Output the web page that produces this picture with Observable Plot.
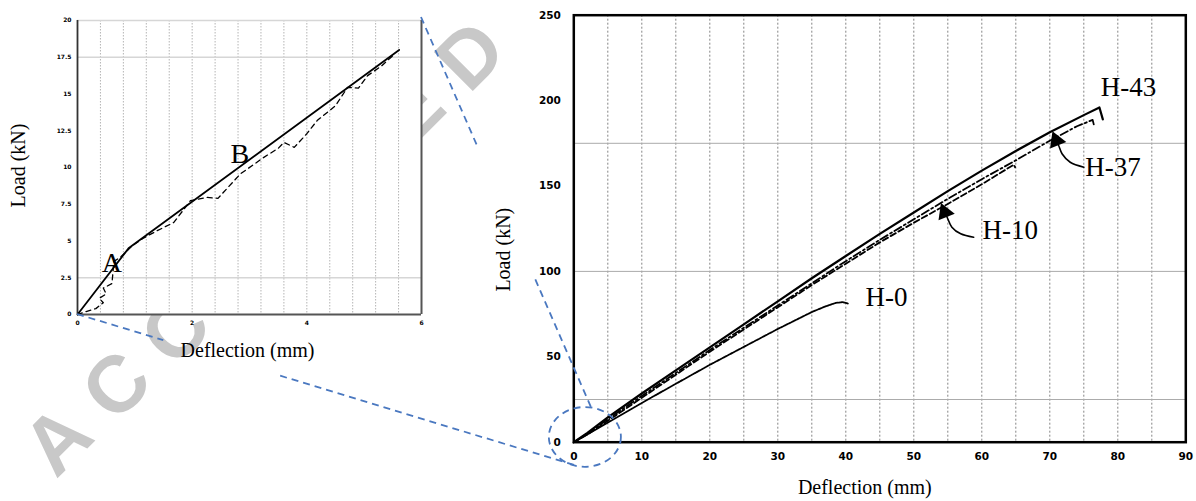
<!DOCTYPE html>
<html><head><meta charset="utf-8">
<script src="https://cdn.jsdelivr.net/npm/d3@7"></script>
<script src="https://cdn.jsdelivr.net/npm/@observablehq/plot@0.6"></script>
<style>
html,body{margin:0;padding:0;background:#fff;}
#wrap{position:relative;width:1196px;height:501px;overflow:hidden;background:#fff;}
#wrap > svg{position:absolute;}
</style></head><body><div id="wrap"></div>
<script>
// ---------- data: inset (0–6 mm) ----------
const insetXTicks = [0, 2, 4, 6];
const insetYTicks = [0, 2.5, 5, 7.5, 10, 12.5, 15, 17.5, 20];
const insetXGrid = [0.4, 0.8, 1.2, 1.6, 2.0, 2.4, 2.8, 3.2, 3.6, 4.0, 4.4, 4.8, 5.2, 5.6];
const insetYGrid = [2.5, 17.5, 20];
const insetSolidDef = [0, 0.89, 5.61];
const insetSolidLoad = [0, 4.5, 18.0];
const insetDashDef = [0, 0.15, 0.32, 0.45, 0.38, 0.5, 0.45, 0.6, 0.62, 0.63, 0.75, 0.95, 1.15, 1.39, 1.68, 1.97, 2.26, 2.45, 2.84, 3.25, 3.5, 3.6, 3.78, 4.0, 4.18, 4.5, 4.71, 4.9, 5.06, 5.3, 5.5];
const insetDashLoad = [0, 0.2, 0.4, 0.8, 1.1, 1.4, 1.8, 2.1, 2.9, 3.6, 3.9, 4.66, 5.2, 5.7, 6.26, 7.74, 7.97, 7.9, 9.56, 10.69, 11.3, 11.71, 11.37, 12.3, 13.19, 14.2, 15.45, 15.4, 16.25, 16.9, 17.6];
const insetLetters = ["A", "B"];
const insetLetterDef = [0.6, 2.83];
const insetLetterLoad = [3.5, 10.9];

// ---------- data: main chart ----------
const mainXTicks = [0, 10, 20, 30, 40, 50, 60, 70, 80, 90];
const mainYTicks = [0, 50, 100, 150, 200, 250];
const mainXGrid = [5, 10, 15, 20, 25, 30, 35, 40, 45, 50, 55, 60, 65, 70, 75, 80, 85];
const mainYGrid = [25, 100, 175];

const h0Def  = [0, 5, 10, 15, 20, 25, 30, 35, 37, 38.5, 39.5, 40.3];
const h0Load = [0, 11.5, 23, 34.2, 45.3, 55.8, 66.3, 76.2, 79.5, 81.5, 82, 81.2];

const h10Def  = [0, 2, 5, 10, 15, 20, 25, 30, 35, 40, 45, 50, 55, 60, 64.7, 64.9];
const h10Load = [0, 4.5, 12.5, 26, 39.5, 53, 66, 79, 92, 104.5, 117, 128.5, 139.5, 151, 162.5, 161];

const h37Def  = [0, 2, 5, 10, 15, 20, 25, 30, 35, 40, 45, 50, 55, 60, 65, 70, 74, 76.3, 76.5];
const h37Load = [0, 5, 13.5, 27, 40.5, 54, 67, 80, 93, 106, 118.5, 130.5, 142.5, 154, 165, 176.5, 185, 188.7, 185.5];

const h43Def  = [0, 2, 5, 10, 15, 20, 25, 30, 35, 40, 45, 50, 55, 60, 65, 70, 75, 77.3, 77.8];
const h43Load = [0, 5.5, 14.5, 28.5, 42, 55.5, 69, 82.5, 96, 109, 122, 134.5, 147, 159, 170.5, 181.5, 191.5, 196, 189];

const seriesNames = ["H-0", "H-10", "H-37", "H-43"];
const labelDef  = [42.9, 60.1, 75.2, 77.5];
const labelLoad = [84.9, 124, 161, 208];

const arrow10Def  = [58.8, 56.9, 55.6, 54.9, 54.6];
const arrow10Load = [120.0, 122.0, 125.9, 131.7, 134.0];
const arrow37Def  = [75.0, 73.0, 71.8, 71.3, 71.0];
const arrow37Load = [161.0, 163.9, 168.9, 173.7, 176.0];
const headDef  = [54.55, 70.95];
const headLoad = [134.6, 176.6];
const headAngle = [-22, -22];

// callout (zoom circle) in main data units
const calloutCenter = [1.7, 2.8];
const calloutRadius = [5.3, 17.5];

const watermark = ["A", "C", "C", "E", "P", "T", "E", "D"];

// ---------- helpers ----------
const pts = (xs, ys) => xs.map((x, i) => ({x, y: ys[i]}));
const serif = "Liberation Serif, Times New Roman, serif";
const tickFont = "DejaVu Sans, sans-serif";
const fmt = d => String(d);
const wrap = document.getElementById("wrap");

// ---------- watermark ----------
const wm = d3.create("svg").attr("width", 1196).attr("height", 501).style("left", "0px").style("top", "0px");
watermark.forEach((ch, i) => {
  const cx = 57 + 59 * i, cy = 440 - 55 * i;
  wm.append("text").attr("x", cx).attr("y", cy)
    .attr("text-anchor", "middle").attr("dominant-baseline", "central")
    .attr("transform", `rotate(-45,${cx},${cy})`)
    .attr("font-family", "Liberation Sans, Arial, sans-serif").attr("font-weight", "bold")
    .attr("font-size", 80).attr("fill", "#c8c8c8").text(ch);
});
wrap.appendChild(wm.node());

// ---------- inset ----------
const inset = Plot.plot({
  width: 440, height: 370,
  marginLeft: 77, marginRight: 19, marginTop: 20, marginBottom: 56,
  x: {domain: [0, 6]},
  y: {domain: [0, 20]},
  style: {background: "transparent", fontFamily: tickFont, fontWeight: "bold", fontSize: "6px", overflow: "visible"},
  marks: [
    Plot.frame({fill: "white"}),
    Plot.ruleX(insetXGrid, {stroke: "#b4b4b4", strokeWidth: 1, strokeDasharray: "1.5,1.5"}),
    Plot.ruleY(insetYGrid, {stroke: "#d6d6d6", strokeWidth: 1.5}),
    Plot.ruleX([0], {stroke: "#333", strokeWidth: 1.8}),
    Plot.ruleY([0], {stroke: "#555", strokeWidth: 2}),
    Plot.ruleX([6], {stroke: "#555", strokeWidth: 2}),
    Plot.line(pts(insetDashDef, insetDashLoad), {x: "x", y: "y", stroke: "black", strokeWidth: 1.3, strokeDasharray: "5,4"}),
    Plot.line(pts(insetSolidDef, insetSolidLoad), {x: "x", y: "y", stroke: "black", strokeWidth: 1.8}),
    Plot.text(pts(insetLetterDef, insetLetterLoad), {x: "x", y: "y", text: (d, i) => insetLetters[i], fontFamily: serif, fontWeight: "normal", fontSize: 28}),
    Plot.axisX({ticks: insetXTicks, tickFormat: fmt, tickSize: 0, tickPadding: 6, label: null}),
    Plot.axisY({ticks: insetYTicks, tickFormat: fmt, tickSize: 0, tickPadding: 6, label: null}),
    Plot.text(["Deflection (mm)"], {text: d => d, frameAnchor: "bottom", textAnchor: "middle", lineAnchor: "middle", dy: 36, dx: -2, fontFamily: serif, fontWeight: "normal", fontSize: 20}),
    Plot.text(["Load (kN)"], {text: d => d, frameAnchor: "left", textAnchor: "middle", lineAnchor: "middle", rotate: -90, dx: -59, dy: -2, fontFamily: serif, fontWeight: "normal", fontSize: 20})
  ]
});
inset.style.left = "0px"; inset.style.top = "0px";
wrap.appendChild(inset);

// ---------- main ----------
const main = Plot.plot({
  width: 716, height: 501,
  marginLeft: 93.3, marginRight: 10.7, marginTop: 14.7, marginBottom: 59.3,
  x: {domain: [0, 90]},
  y: {domain: [0, 250]},
  style: {background: "transparent", fontFamily: tickFont, fontWeight: "bold", fontSize: "10.5px", overflow: "visible"},
  marks: [
    Plot.frame({fill: "white"}),
    Plot.ruleX(mainXGrid, {stroke: "#666", strokeWidth: 0.8, strokeDasharray: "2,2"}),
    Plot.ruleY(mainYGrid, {stroke: "#ababab", strokeWidth: 1}),
    Plot.line(pts(h0Def, h0Load), {x: "x", y: "y", stroke: "black", strokeWidth: 1.8, strokeDasharray: "2,1"}),
    Plot.line(pts(h10Def, h10Load), {x: "x", y: "y", stroke: "black", strokeWidth: 1.8, strokeDasharray: "6,3"}),
    Plot.line(pts(h37Def, h37Load), {x: "x", y: "y", stroke: "black", strokeWidth: 1.8, strokeDasharray: "8,3,2,3"}),
    Plot.line(pts(h43Def, h43Load), {x: "x", y: "y", stroke: "black", strokeWidth: 2.2}),
    Plot.line(pts(arrow10Def, arrow10Load), {x: "x", y: "y", curve: "catmull-rom", stroke: "black", strokeWidth: 1.6}),
    Plot.line(pts(arrow37Def, arrow37Load), {x: "x", y: "y", curve: "catmull-rom", stroke: "black", strokeWidth: 1.6}),
    Plot.dot(pts(headDef, headLoad), {x: "x", y: "y", symbol: "triangle", r: 6.5, fill: "black", stroke: null, rotate: (d, i) => headAngle[i]}),
    Plot.text(pts(labelDef, labelLoad), {x: "x", y: "y", text: (d, i) => seriesNames[i], textAnchor: "start", fontFamily: serif, fontWeight: "normal", fontSize: 27}),
    Plot.axisX({ticks: mainXTicks, tickFormat: fmt, tickSize: 0, tickPadding: 10, label: null}),
    Plot.axisY({ticks: mainYTicks, tickFormat: fmt, tickSize: 0, tickPadding: 13, label: null}),
    Plot.frame({stroke: "black", strokeWidth: 2.5}),
    Plot.text(["Deflection (mm)"], {text: d => d, frameAnchor: "bottom", textAnchor: "middle", lineAnchor: "middle", dy: 45, dx: -15, fontFamily: serif, fontWeight: "normal", fontSize: 20}),
    Plot.text(["Load (kN)"], {text: d => d, frameAnchor: "left", textAnchor: "middle", lineAnchor: "middle", rotate: -90, dx: -70, dy: 21, fontFamily: serif, fontWeight: "normal", fontSize: 20})
  ]
});
main.style.left = "480px"; main.style.top = "0px";
wrap.appendChild(main);

// ---------- callout overlay (positions from the scales) ----------
const MX = 480, MY = 0;
const mx = main.scale("x"), my = main.scale("y");
const ix = inset.scale("x"), iy = inset.scale("y");
const cx = MX + mx.apply(calloutCenter[0]), cy = MY + my.apply(calloutCenter[1]);
const rx = mx.apply(calloutCenter[0] + calloutRadius[0]) - mx.apply(calloutCenter[0]);
const ry = my.apply(calloutCenter[1]) - my.apply(calloutCenter[1] + calloutRadius[1]);
const onEllipse = deg => [cx + rx * Math.cos(deg * Math.PI / 180), cy + ry * Math.sin(deg * Math.PI / 180)];

const ov = d3.create("svg").attr("width", 1196).attr("height", 501).style("left", "0px").style("top", "0px").style("pointer-events", "none");
const blue = "#4a78c0";
ov.append("ellipse").attr("cx", cx).attr("cy", cy).attr("rx", rx).attr("ry", ry)
  .attr("fill", "none").attr("stroke", blue).attr("stroke-width", 1.8).attr("stroke-dasharray", "7,5");
function seg(p, q, t0, t1) {
  ov.append("line")
    .attr("x1", p[0] + (q[0] - p[0]) * t0).attr("y1", p[1] + (q[1] - p[1]) * t0)
    .attr("x2", p[0] + (q[0] - p[0]) * t1).attr("y2", p[1] + (q[1] - p[1]) * t1)
    .attr("stroke", blue).attr("stroke-width", 1.8).attr("stroke-dasharray", "7,5");
}
const topRight = [ix.apply(6), iy.apply(20) - 3];
const origin = [ix.apply(0), iy.apply(0)];
const e1 = onEllipse(-80), e2 = onEllipse(100);
seg(topRight, e1, 0, 0.33); seg(topRight, e1, 0.672, 1);
seg(origin, e2, 0, 0.172); seg(origin, e2, 0.405, 1);
wrap.appendChild(ov.node());
</script>
</body></html>
